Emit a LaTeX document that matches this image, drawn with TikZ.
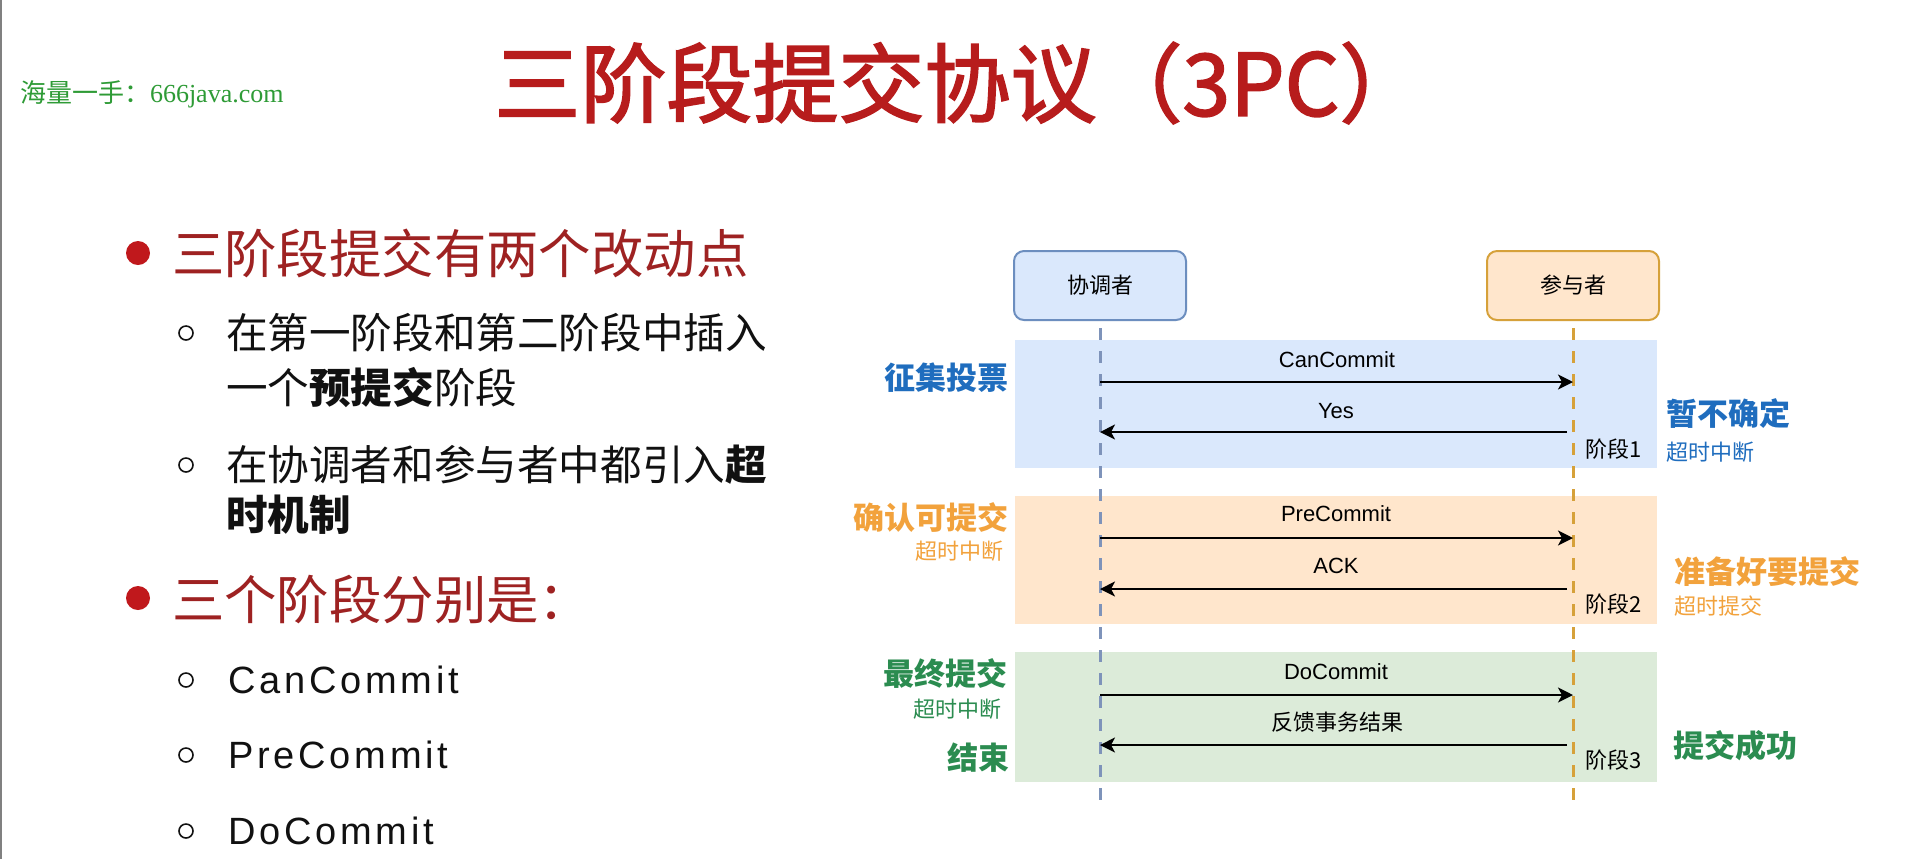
\documentclass[tikz,border=0pt]{standalone}
\usepackage{fontspec}
\setmainfont{Noto Sans CJK SC}
\newfontfamily\titlefont[FakeBold=2]{Noto Sans CJK SC}
\newfontfamily\hvfont{Liberation Sans}
\newfontfamily\spacedfont[LetterSpace=10]{Liberation Sans}
\newfontfamily\webserif{Liberation Serif}
\usetikzlibrary{arrows.meta}

\definecolor{titlered}{HTML}{B71C1C}
\definecolor{headred}{HTML}{9E2222}
\definecolor{dotred}{HTML}{C0181C}
\definecolor{wmgreen}{HTML}{2E9B36}
\definecolor{bodyblack}{HTML}{111111}
\definecolor{bluefill}{HTML}{DAE8FC}
\definecolor{bluedraw}{HTML}{6C8EBF}
\definecolor{bluelife}{HTML}{7E93BA}
\definecolor{orangefill}{HTML}{FFE6CC}
\definecolor{orangedraw}{HTML}{D6A13A}
\definecolor{greenfill}{HTML}{DCEBD9}
\definecolor{bluetext}{HTML}{1F6DBE}
\definecolor{orangetext}{HTML}{F2A23C}
\definecolor{greentext}{HTML}{2B8C50}

\tikzset{
  plain/.style={inner sep=0pt, outer sep=0pt},
  heading/.style={plain, anchor=west, text=headred, font=\fontsize{26.2}{30}\selectfont},
  body/.style={plain, anchor=west, text=bodyblack, font=\fontsize{20.8}{24}\selectfont},
  listitem/.style={plain, anchor=west, text=bodyblack, font=\spacedfont\fontsize{19}{22}\selectfont},
  reddot/.style={circle, fill=dotred, minimum size=12pt, inner sep=0pt},
  ring/.style={circle, draw=bodyblack, line width=0.8pt, minimum size=7pt, inner sep=0pt},
  actor/.style={rectangle, rounded corners=5pt, line width=1pt, minimum width=86pt,
    minimum height=34.5pt, inner sep=0pt, font=\fontsize{11}{13}\selectfont},
  lifeline/.style={line width=1.5pt, dash pattern=on 6pt off 5.5pt},
  msg/.style={line width=1pt, draw=black, -{Stealth[length=7.5pt,width=7.5pt,inset=2pt]}},
  reply/.style={msg, shorten <=2pt},
  msglabel/.style={plain, font=\hvfont\fontsize{11}{13}\selectfont},
  cjklabel/.style={plain, font=\fontsize{11}{13}\selectfont},
  stage/.style={plain, anchor=west, font=\fontsize{11}{13}\selectfont},
  bigtag/.style={plain, font=\fontsize{15.5}{18}\selectfont\bfseries},
  smalltag/.style={plain, font=\fontsize{11}{13}\selectfont},
}

\begin{document}
\begin{tikzpicture}[x=0.5pt,y=-0.5pt]
% page
\fill[white] (0,0) rectangle (1920,859);
\useasboundingbox (0,0) rectangle (1920,859);
\draw[line width=1pt, gray] (1,0) -- (1,859);

% header
\node[plain, anchor=west, text=wmgreen, font=\fontsize{13}{15}\selectfont] (wm) at (20,94)
  {海量一手：{\webserif 666java.com}};
\node[plain, text=titlered, font=\titlefont\fontsize{43}{48}\selectfont] (title) at (960,83)
  {三阶段提交协议（3PC）};

% left column: bullet list
\node[reddot] (b1) at (138,253) {};
\node[heading] (h1) at (172,253) {三阶段提交有两个改动点};
\node[ring] (r1) at (186,333) {};
\node[body] (t1a) at (226,333) {在第一阶段和第二阶段中插入};
\node[body] (t1b) at (226,388) {一个\textbf{预提交}阶段};
\node[ring] (r2) at (186,465) {};
\node[body] (t2a) at (226,465) {在协调者和参与者中都引入\textbf{超}};
\node[body] (t2b) at (226,515) {\textbf{时机制}};

\node[reddot] (b2) at (138,598) {};
\node[heading] (h2) at (172,600) {三个阶段分别是：};
\node[ring] (r3) at (186,680) {};
\node[listitem] (l1) at (228,680) {CanCommit};
\node[ring] (r4) at (186,755) {};
\node[listitem] (l2) at (228,755) {PreCommit};
\node[ring] (r5) at (186,831) {};
\node[listitem] (l3) at (228,831) {DoCommit};

% phase bands
\fill[bluefill]   (1015,340) rectangle (1657,468);
\fill[orangefill] (1015,496) rectangle (1657,624);
\fill[greenfill]  (1015,652) rectangle (1657,782);

% participants and lifelines
\node[actor, fill=bluefill, draw=bluedraw] (coord) at (1100,285.5) {协调者};
\node[actor, fill=orangefill, draw=orangedraw] (part) at (1573,285.5) {参与者};

\coordinate (cTop) at (1100,328);
\coordinate (cBot) at (1100,804);
\coordinate (pTop) at (1573,328);
\coordinate (pBot) at (1573,804);
\draw[lifeline, draw=bluelife] (cTop) -- (cBot);
\draw[lifeline, draw=orangedraw] (pTop) -- (pBot);

% message anchors on the lifelines
\coordinate (c1) at (1100,382); \coordinate (p1) at (1573,382);
\coordinate (c2) at (1100,432); \coordinate (p2) at (1571,432);
\coordinate (c3) at (1100,538); \coordinate (p3) at (1573,538);
\coordinate (c4) at (1100,589); \coordinate (p4) at (1571,589);
\coordinate (c5) at (1100,695); \coordinate (p5) at (1573,695);
\coordinate (c6) at (1100,745); \coordinate (p6) at (1571,745);

% messages
\draw[msg] (c1) -- (p1);
\node[msglabel] (m1) at (1337,360) {CanCommit};
\draw[reply] (p2) -- (c2);
\node[msglabel] (m2) at (1336,411) {Yes};
\draw[msg] (c3) -- (p3);
\node[msglabel] (m3) at (1336,514) {PreCommit};
\draw[reply] (p4) -- (c4);
\node[msglabel] (m4) at (1336,566) {ACK};
\draw[msg] (c5) -- (p5);
\node[msglabel] (m5) at (1336,672) {DoCommit};
\draw[reply] (p6) -- (c6);
\node[cjklabel] (m6) at (1337,722) {反馈事务结果};

% stage numbers
\node[stage] (s1) at (1585,449) {阶段1};
\node[stage] (s2) at (1585,604) {阶段2};
\node[stage] (s3) at (1585,760) {阶段3};

% coordinator-side notes
\node[bigtag, anchor=east, text=bluetext] (n1) at (1008,378) {征集投票};
\node[bigtag, anchor=east, text=orangetext] (n2) at (1008,517) {确认可提交};
\node[smalltag, anchor=east, text=orangetext] (n2t) at (1003,551) {超时中断};
\node[bigtag, anchor=east, text=greentext] (n3) at (1007,673) {最终提交};
\node[smalltag, anchor=east, text=greentext] (n3t) at (1001,709) {超时中断};
\node[bigtag, anchor=east, text=greentext] (n3e) at (1009,758) {结束};

% participant-side notes
\node[bigtag, anchor=west, text=bluetext] (q1) at (1666,414) {暂不确定};
\node[smalltag, anchor=west, text=bluetext] (q1t) at (1666,452) {超时中断};
\node[bigtag, anchor=west, text=orangetext] (q2) at (1674,572) {准备好要提交};
\node[smalltag, anchor=west, text=orangetext] (q2t) at (1674,606) {超时提交};
\node[bigtag, anchor=west, text=greentext] (q3) at (1673,746) {提交成功};
\end{tikzpicture}
\end{document}
